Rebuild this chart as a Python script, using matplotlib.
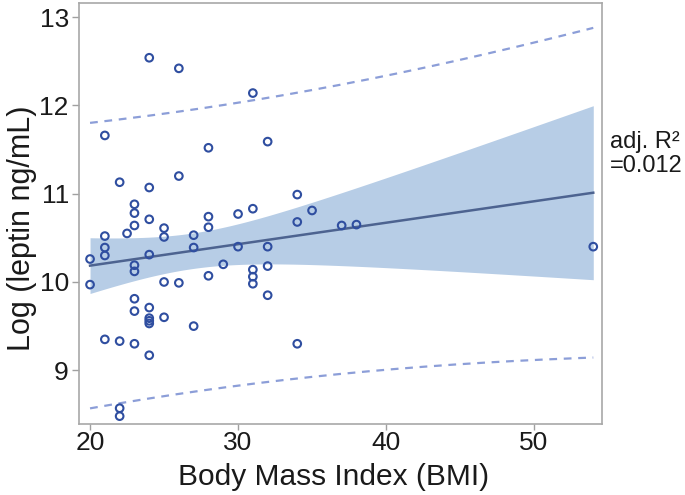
import matplotlib
matplotlib.use("Agg")
import matplotlib.pyplot as plt
import numpy as np

plt.rcParams['font.family'] = ['Liberation Sans', 'DejaVu Sans']

# BMI and log(leptin)
bmi = [20, 20,
       21, 21, 21, 21, 21,
       22, 22, 22, 22,
       22.5,
       23, 23, 23, 23, 23, 23, 23, 23,
       24, 24, 24, 24, 24, 24, 24, 24, 24,
       25, 25, 25, 25,
       26, 26, 26,
       27, 27, 27,
       28, 28, 28, 28,
       29,
       30, 30,
       31, 31, 31, 31, 31,
       32, 32, 32, 32,
       34, 34, 34,
       35, 37, 38, 54]
log_leptin = [10.26, 9.97,
              11.66, 10.52, 10.39, 10.30, 9.35,
              11.13, 9.33, 8.57, 8.48,
              10.55,
              10.88, 10.78, 10.64, 10.19, 10.12, 9.81, 9.67, 9.30,
              12.54, 11.07, 10.71, 10.31, 9.71, 9.59, 9.56, 9.53, 9.17,
              10.61, 10.51, 10.00, 9.60,
              12.42, 11.20, 9.99,
              10.53, 10.39, 9.50,
              11.52, 10.74, 10.62, 10.07,
              10.20,
              10.77, 10.40,
              12.14, 10.83, 10.14, 10.06, 9.98,
              11.59, 10.40, 10.18, 9.85,
              10.99, 10.68, 9.30,
              10.81, 10.64, 10.65, 10.40]
annot = "adj. R\u00b2\n=0.012"
xticks = [20, 30, 40, 50]
yticks = [9, 10, 11, 12, 13]

x = np.array(bmi, dtype=float)
y = np.array(log_leptin)
n = len(x)

# ordinary least squares with 95% confidence and prediction bands
slope, intercept = np.polyfit(x, y, 1)
resid = y - (slope * x + intercept)
s = np.sqrt(np.sum(resid ** 2) / (n - 2))
t = 1.999
xs = np.linspace(x.min(), x.max(), 200)
fit = slope * xs + intercept
sxx = np.sum((x - x.mean()) ** 2)
se_mean = s * np.sqrt(1 / n + (xs - x.mean()) ** 2 / sxx)
se_pred = s * np.sqrt(1 + 1 / n + (xs - x.mean()) ** 2 / sxx)

fig = plt.figure(figsize=(6.85, 4.95), dpi=100)
ax = fig.add_axes([0.1146, 0.1434, 0.7638, 0.8505])

ax.fill_between(xs, fit - t * se_mean, fit + t * se_mean, color='#b7cde6', lw=0, zorder=1)
ax.plot(xs, fit, color='#4d6390', lw=1.8, zorder=2)
ax.plot(xs, fit + t * se_pred, color='#8c9ed8', lw=1.6, ls=(0, (3.5, 3)), zorder=2)
ax.plot(xs, fit - t * se_pred, color='#8c9ed8', lw=1.6, ls=(0, (3.5, 3)), zorder=2)
ax.scatter(x, y, s=30, facecolors='none', edgecolors='#2f4ea0', linewidths=1.5, zorder=3)

ax.set_xlim(19.22, 54.57)
ax.set_ylim(8.391, 13.16)
ax.set_xticks(xticks)
ax.set_yticks(yticks)
ax.tick_params(direction='out', length=4, width=1, color='#a0a0a0', labelsize=19,
               labelcolor='#1a1a1a', pad=1)
ax.tick_params(axis='y', length=5, pad=2)
for sp in ax.spines.values():
    sp.set_color('#a8a8a8')
    sp.set_linewidth(1.2)

ax.set_xlabel("Body Mass Index (BMI)", fontsize=21.5, color='#1a1a1a', va='center')
ax.set_ylabel("Log (leptin ng/mL)", fontsize=22, color='#1a1a1a', va='center')
ax.xaxis.set_label_coords(0.488, -0.1265)
ax.yaxis.set_label_coords(-0.108, 0.466)

fig.text(610 / 685, 1 - 154 / 495, annot, fontsize=17, color='#1a1a1a',
         ha='left', va='center', linespacing=1.15)

fig.savefig("out.png", dpi=100)
